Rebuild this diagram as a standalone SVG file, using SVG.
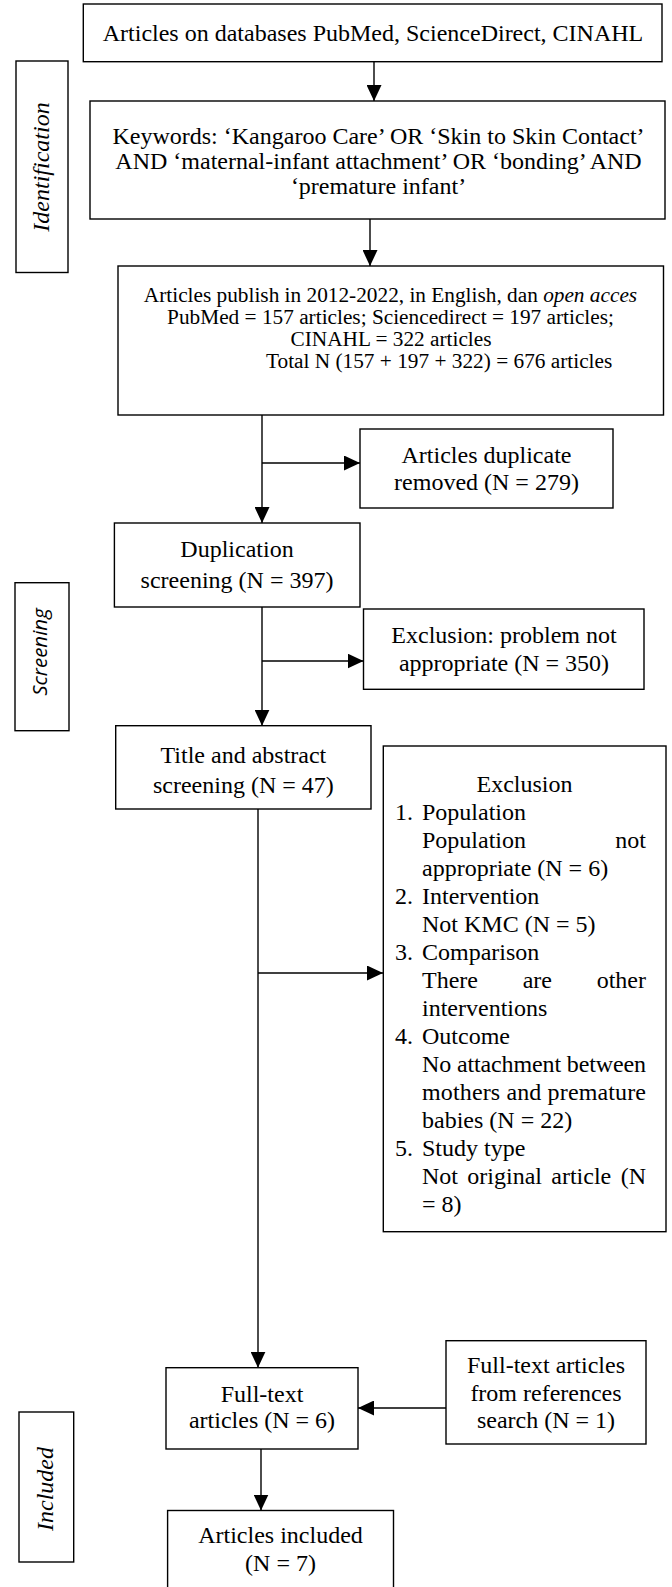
<svg xmlns="http://www.w3.org/2000/svg" width="672" height="1587" viewBox="0 0 672 1587">
<style>
.box{fill:#fff;stroke:#000;stroke-width:1.4}
.t{font-family:"Liberation Serif","Times New Roman",serif;font-size:24px;fill:#000}
.c{text-anchor:middle}
.s{font-size:21.3px}
.lbl{font-family:"Liberation Serif","Times New Roman",serif;font-size:24px;font-style:italic;fill:#000;text-anchor:middle}
.lbls{font-family:"Open Sans","Noto Sans",sans-serif;font-size:20.5px;font-style:italic;fill:#000;text-anchor:middle}
.ln{stroke:#000;stroke-width:1.4;fill:none}
.arr{marker-end:url(#ah)}
</style>
<defs>
<marker id="ah" markerWidth="16" markerHeight="15" refX="16" refY="7.5" orient="auto" markerUnits="userSpaceOnUse"><path d="M0,0 L16,7.5 L0,15 z" fill="#000"/></marker>
</defs>
<rect width="672" height="1587" fill="#fff"/>

<g id="stage-identification">
<rect class="box" x="16" y="61" width="52" height="211.5"/>
<text class="lbl" transform="translate(49,167) rotate(-90)">Identification</text>
</g>
<g id="stage-screening">
<rect class="box" x="15" y="582.7" width="54" height="148"/>
<text class="lbls" transform="translate(47,652) rotate(-90)">Screening</text>
</g>
<g id="stage-included">
<rect class="box" x="19" y="1412" width="54.7" height="150"/>
<text class="lbl" transform="translate(53,1489) rotate(-90)">Included</text>
</g>

<g id="connectors">
<line class="ln arr" x1="374" y1="62" x2="374" y2="101"/>
<line class="ln arr" x1="370" y1="219" x2="370" y2="266"/>
<line class="ln arr" x1="262" y1="415" x2="262" y2="523"/>
<line class="ln arr" x1="262" y1="463" x2="360" y2="463"/>
<line class="ln arr" x1="262" y1="607" x2="262" y2="725.7"/>
<line class="ln arr" x1="262" y1="661" x2="363.5" y2="661"/>
<line class="ln arr" x1="258" y1="809" x2="258" y2="1367.7"/>
<line class="ln arr" x1="258" y1="973" x2="383" y2="973"/>
<line class="ln arr" x1="446" y1="1408" x2="358" y2="1408"/>
<line class="ln arr" x1="261" y1="1449" x2="261" y2="1510.5"/>
</g>

<g id="n-databases">
<rect class="box" x="83.3" y="4" width="578.7" height="57.7"/>
<text class="t c" x="373" y="41">Articles on databases PubMed, ScienceDirect, CINAHL</text>
</g>

<g id="n-keywords">
<rect class="box" x="90" y="101" width="575" height="118"/>
<text class="t c" x="378.5" y="144">Keywords: ‘Kangaroo Care’ OR ‘Skin to Skin Contact’</text>
<text class="t c" x="378.5" y="169">AND ‘maternal-infant attachment’ OR ‘bonding’ AND</text>
<text class="t c" x="378.5" y="194">‘premature infant’</text>
</g>

<g id="n-published">
<rect class="box" x="118" y="266" width="545.5" height="149"/>
<text class="t s c" x="390.5" y="302">Articles publish in 2012-2022, in English, dan <tspan font-style="italic">open acces</tspan></text>
<text class="t s c" x="390.5" y="324">PubMed = 157 articles; Sciencedirect = 197 articles;</text>
<text class="t s c" x="391" y="346">CINAHL = 322 articles</text>
<text class="t s" x="266" y="368">Total N (157 + 197 + 322) = 676 articles</text>
</g>

<g id="n-duplicate-removed">
<rect class="box" x="360" y="429" width="253" height="79"/>
<text class="t c" x="486.5" y="463">Articles duplicate</text>
<text class="t c" x="486.5" y="490">removed (N = 279)</text>
</g>

<g id="n-duplication-screening">
<rect class="box" x="114.4" y="523" width="245.6" height="84"/>
<text class="t c" x="237" y="557">Duplication</text>
<text class="t c" x="237" y="588">screening (N = 397)</text>
</g>

<g id="n-exclusion-problem">
<rect class="box" x="363.5" y="609" width="280.5" height="80.3"/>
<text class="t c" x="504" y="643">Exclusion: problem not</text>
<text class="t c" x="504" y="671">appropriate (N = 350)</text>
</g>

<g id="n-title-abstract">
<rect class="box" x="115.7" y="725.7" width="255.3" height="83.3"/>
<text class="t c" x="243.4" y="763">Title and abstract</text>
<text class="t c" x="243.4" y="793">screening (N = 47)</text>
</g>

<g id="n-exclusion-criteria">
<rect class="box" x="383.3" y="746" width="282.7" height="485.7"/>
<text class="t c" x="524.5" y="792">Exclusion</text>
<text class="t" x="395" y="820">1.</text><text class="t" x="422" y="820">Population</text>
<text class="t" x="422" y="848">Population</text><text class="t" x="646" y="848" text-anchor="end">not</text>
<text class="t" x="422" y="876">appropriate (N = 6)</text>
<text class="t" x="395" y="904">2.</text><text class="t" x="422" y="904">Intervention</text>
<text class="t" x="422" y="932">Not KMC (N = 5)</text>
<text class="t" x="395" y="960">3.</text><text class="t" x="422" y="960">Comparison</text>
<text class="t" x="422" y="988">There</text><text class="t" x="522.7" y="988">are</text><text class="t" x="646" y="988" text-anchor="end">other</text>
<text class="t" x="422" y="1016">interventions</text>
<text class="t" x="395" y="1044">4.</text><text class="t" x="422" y="1044">Outcome</text>
<text class="t" x="422" y="1072" textLength="224" lengthAdjust="spacing">No attachment between</text>
<text class="t" x="422" y="1100" textLength="224" lengthAdjust="spacing">mothers and premature</text>
<text class="t" x="422" y="1128">babies (N = 22)</text>
<text class="t" x="395" y="1156">5.</text><text class="t" x="422" y="1156">Study type</text>
<text class="t" x="422" y="1184">Not</text><text class="t" x="467.3" y="1184">original</text><text class="t" x="551.3" y="1184">article</text><text class="t" x="646" y="1184" text-anchor="end">(N</text>
<text class="t" x="422" y="1212">= 8)</text>
</g>

<g id="n-references-search">
<rect class="box" x="446" y="1340.7" width="200" height="103.3"/>
<text class="t c" x="546" y="1373">Full-text articles</text>
<text class="t c" x="546" y="1400.5">from references</text>
<text class="t c" x="546" y="1428">search (N = 1)</text>
</g>

<g id="n-fulltext">
<rect class="box" x="166" y="1367.7" width="192" height="81.3"/>
<text class="t c" x="262" y="1402">Full-text</text>
<text class="t c" x="262" y="1428">articles (N = 6)</text>
</g>

<g id="n-included">
<rect class="box" x="167.6" y="1510.5" width="225.9" height="100"/>
<text class="t c" x="280.5" y="1543">Articles included</text>
<text class="t c" x="280.5" y="1570.5">(N = 7)</text>
</g>
</svg>
